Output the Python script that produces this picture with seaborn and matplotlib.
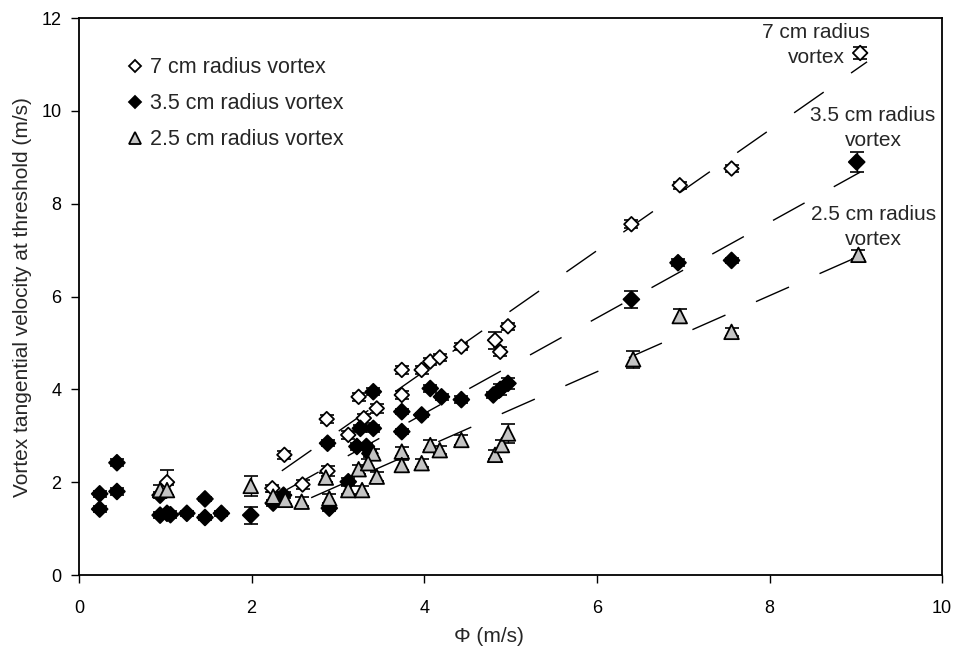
import numpy as np
import pandas as pd
import matplotlib
matplotlib.use("Agg")
import matplotlib.pyplot as plt
from matplotlib.lines import Line2D
import seaborn as sns

# ---- data ----
labels = ["7 cm radius vortex", "3.5 cm radius vortex", "2.5 cm radius vortex"]

x_7 = [1.02, 2.24, 2.38, 2.59, 2.87, 2.88, 3.12, 3.24, 3.30, 3.45, 3.74, 3.74,
       3.97, 4.07, 4.18, 4.43, 4.82, 4.88, 4.97, 6.40, 6.96, 7.56, 9.05]
y_7 = [2.00, 1.87, 2.59, 1.95, 3.36, 2.24, 3.02, 3.84, 3.38, 3.59, 4.42, 3.88,
       4.42, 4.60, 4.69, 4.92, 5.06, 4.81, 5.36, 7.56, 8.40, 8.76, 11.25]
e_7 = [0.27, 0.08, 0.08, 0.10, 0.08, 0.10, 0.08, 0.08, 0.10, 0.10, 0.08, 0.08,
       0.08, 0.08, 0.08, 0.08, 0.18, 0.10, 0.08, 0.08, 0.08, 0.08, 0.12]

x_35 = [0.24, 0.24, 0.44, 0.44, 0.94, 0.94, 1.02, 1.06, 1.25, 1.46, 1.46, 1.65,
        1.99, 2.25, 2.37, 2.88, 2.90, 3.12, 3.26, 3.41, 3.41, 3.22, 3.33, 3.37,
        3.74, 3.74, 3.97, 4.07, 4.20, 4.43, 4.80, 4.88, 4.97, 6.40, 6.94, 7.56, 9.01]
y_35 = [1.75, 1.42, 2.42, 1.80, 1.72, 1.29, 1.33, 1.30, 1.33, 1.64, 1.24, 1.33,
        1.29, 1.55, 1.72, 2.84, 1.44, 2.01, 3.16, 3.95, 3.16, 2.77, 2.77, 2.62,
        3.52, 3.09, 3.45, 4.02, 3.84, 3.78, 3.88, 4.00, 4.13, 5.94, 6.73, 6.78, 8.90]
e_35 = [0.07, 0.07, 0.07, 0.07, 0.07, 0.07, 0.07, 0.07, 0.05, 0.05, 0.05, 0.05,
        0.18, 0.07, 0.07, 0.07, 0.07, 0.07, 0.07, 0.07, 0.07, 0.07, 0.07, 0.07,
        0.05, 0.05, 0.05, 0.07, 0.07, 0.07, 0.07, 0.12, 0.12, 0.18, 0.08, 0.06, 0.22]

x_25 = [0.94, 1.02, 1.99, 2.25, 2.39, 2.58, 2.86, 2.90, 3.12, 3.28, 3.24, 3.41,
        3.35, 3.45, 3.74, 3.74, 3.97, 4.07, 4.18, 4.43, 4.82, 4.90, 4.97, 6.42,
        6.96, 7.56, 9.03]
y_25 = [1.83, 1.83, 1.92, 1.69, 1.62, 1.58, 2.10, 1.65, 1.83, 1.83, 2.28, 2.62,
        2.41, 2.12, 2.66, 2.37, 2.41, 2.80, 2.69, 2.91, 2.59, 2.80, 3.05, 4.65,
        5.58, 5.24, 6.90]
e_25 = [0.10, 0.10, 0.22, 0.10, 0.10, 0.10, 0.10, 0.10, 0.08, 0.08, 0.10, 0.10,
        0.10, 0.10, 0.10, 0.10, 0.08, 0.10, 0.08, 0.10, 0.10, 0.10, 0.20, 0.18,
        0.15, 0.08, 0.10]

# dashed trend lines (slope, intercept, x range)
fit_slope = [1.30, 1.03, 0.82]
fit_intercept = [-0.81, -0.64, -0.54]
fit_start = [2.35, 2.41, 2.69]
fit_end = [9.13, 9.05, 9.05]

# ---- build table ----
df = pd.concat([
    pd.DataFrame({"phi": x_7, "v": y_7, "err": e_7, "series": labels[0]}),
    pd.DataFrame({"phi": x_35, "v": y_35, "err": e_35, "series": labels[1]}),
    pd.DataFrame({"phi": x_25, "v": y_25, "err": e_25, "series": labels[2]}),
], ignore_index=True)

sns.set_style("white")
plt.rcParams["font.family"] = ["Liberation Sans", "DejaVu Sans"]

fig = plt.figure(figsize=(9.57, 6.49), dpi=100)
ax = fig.add_axes([0.0825, 0.114, 0.902, 0.858])

markers = {labels[0]: "D", labels[1]: "D", labels[2]: "^"}
faces = {labels[0]: "white", labels[1]: "black", labels[2]: "#c4c4c4"}
msizes = {labels[0]: 55, labels[1]: 65, labels[2]: 110}

# trend lines
for i in range(3):
    xs = np.array([fit_start[i], fit_end[i]])
    ax.plot(xs, fit_slope[i] * xs + fit_intercept[i], color="black",
            lw=1.0, dashes=(26, 24), zorder=1)

# error bars
ax.errorbar(df["phi"], df["v"], yerr=df["err"], fmt="none", ecolor="black",
            elinewidth=1.0, capsize=5, capthick=1.2, zorder=2)

sns.scatterplot(data=df, x="phi", y="v", hue="series", style="series",
                size="series", sizes=msizes, markers=markers, palette=faces,
                edgecolor="black", linewidth=1.3, ax=ax, legend=False, zorder=3)

# legend
handles = [Line2D([], [], ls="none", marker=markers[l], markerfacecolor=faces[l],
                  markeredgecolor="black", markersize=6 if markers[l] == "D" else 8,
                  markeredgewidth=1.3) for l in labels]
ax.legend(handles, labels, loc="upper left", bbox_to_anchor=(0.054, 0.93),
          frameon=False, fontsize=15.5, handletextpad=0.25, labelspacing=0.7,
          handlelength=0.9, borderpad=0, borderaxespad=0)

# curve labels
ax.text(8.54, 11.42, "7 cm radius\nvortex", ha="center", va="center",
        fontsize=15, linespacing=1.4)
ax.text(9.20, 9.64, "3.5 cm radius\nvortex", ha="center", va="center",
        fontsize=15, linespacing=1.4)
ax.text(9.20, 7.49, "2.5 cm radius\nvortex", ha="center", va="center",
        fontsize=15, linespacing=1.4)

ax.set_xlim(0, 10)
ax.set_ylim(0, 12)
ax.set_xticks(range(0, 11, 2))
ax.set_yticks(range(0, 13, 2))
ax.set_xlabel("\u03a6 (m/s)", fontsize=15)
ax.xaxis.set_label_coords(0.475, -0.093)
ax.set_ylabel("Vortex tangential velocity at threshold (m/s)", fontsize=15)
ax.yaxis.set_label_coords(-0.054, 0.5)
ax.tick_params(direction="out", length=6, width=1.0, labelsize=13, left=True,
               bottom=True, colors="black")
ax.tick_params(axis="x", pad=12)
ax.tick_params(axis="y", pad=6.5)
for sp in ax.spines.values():
    sp.set_visible(True)
    sp.set_color("black")
    sp.set_linewidth(1.3)

fig.savefig("out.png", dpi=100)
